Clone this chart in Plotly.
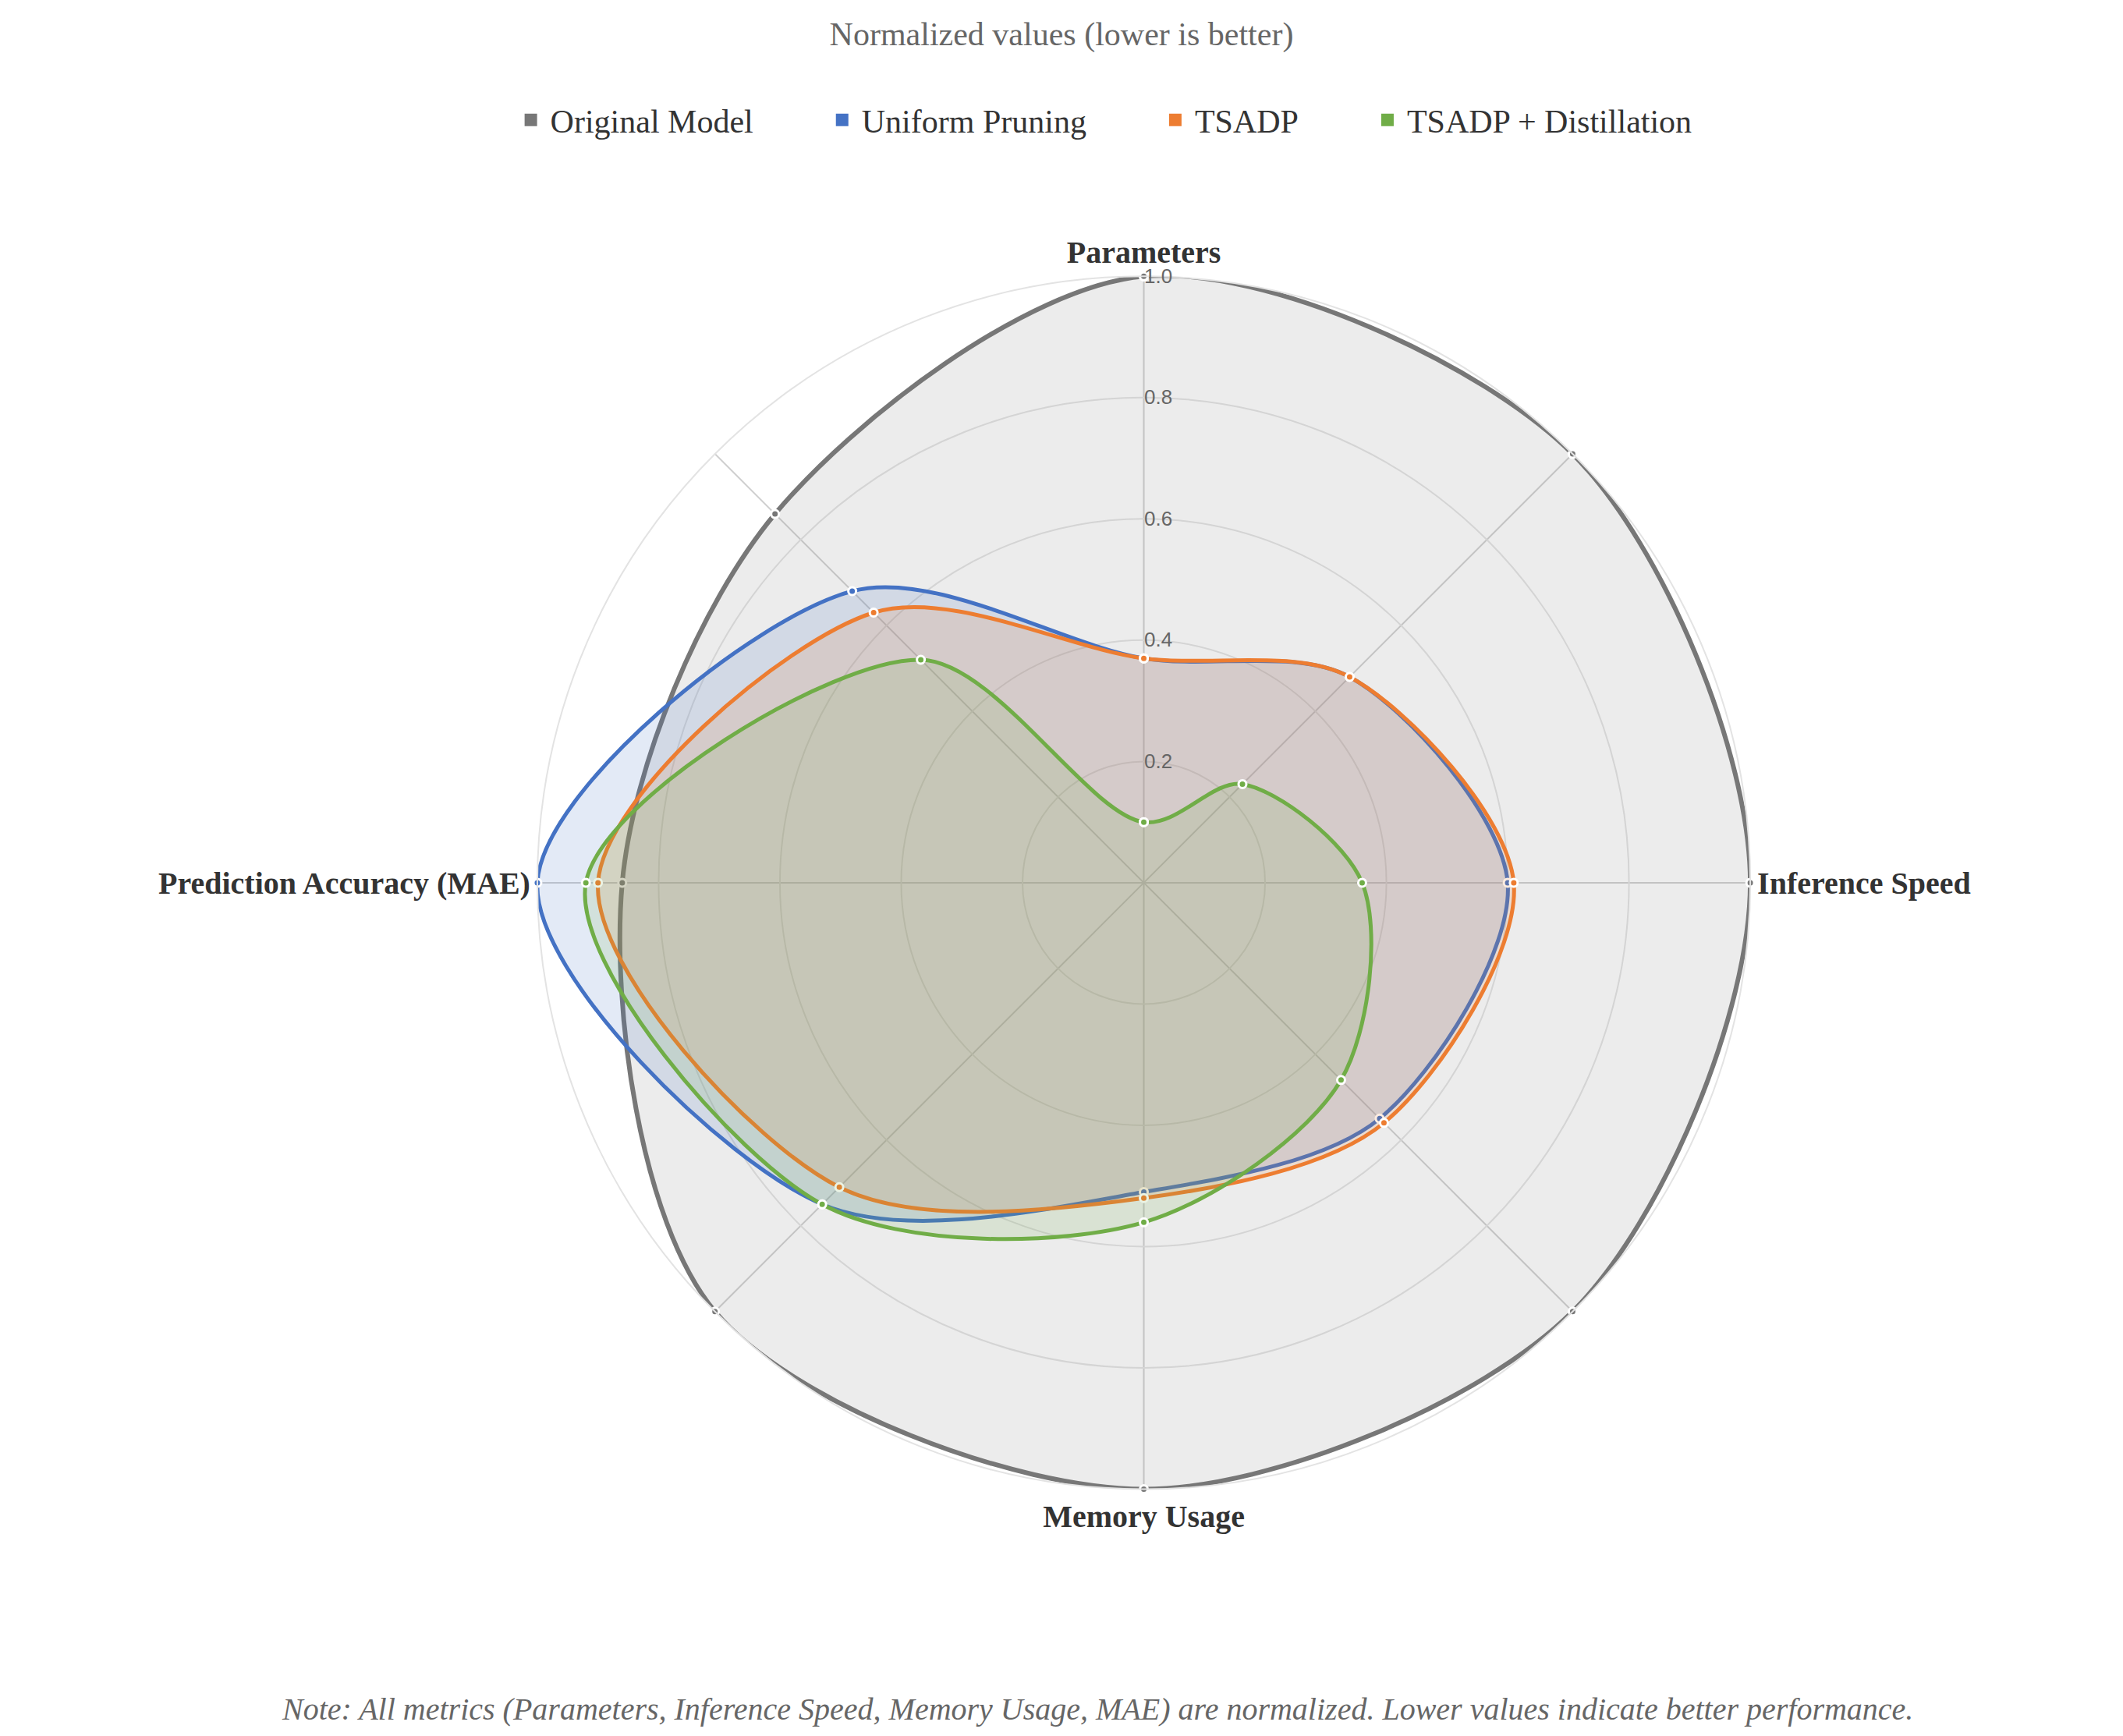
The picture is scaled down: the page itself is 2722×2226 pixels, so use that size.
import plotly.graph_objects as go

# axis names (diagonal spokes have no label in the source chart)
axes = ["Parameters", " ", "Inference Speed", "  ", "Memory Usage", "   ",
        "Prediction Accuracy (MAE)", "    "]

series_names = ["Original Model", "Uniform Pruning", "TSADP", "TSADP + Distillation"]
original = [1.00, 1.00, 1.00, 1.00, 1.00, 1.00, 0.86, 0.86]
uniform = [0.37, 0.48, 0.60, 0.55, 0.51, 0.75, 1.00, 0.68]
tsadp = [0.37, 0.48, 0.61, 0.56, 0.52, 0.71, 0.90, 0.63]
distill = [0.10, 0.23, 0.36, 0.46, 0.56, 0.75, 0.92, 0.52]

radial_ticks = [0.2, 0.4, 0.6, 0.8, 1.0]
radial_ticktext = ["0.2", "0.4", "0.6", "0.8", "1.0"]

line_colors = ["#777777", "#4472c4", "#ed7d31", "#70ad47"]
line_widths = [6, 5, 5, 5]
fill_colors = ["rgba(128,128,128,0.15)", "rgba(68,114,196,0.15)",
               "rgba(237,125,49,0.15)", "rgba(112,173,71,0.15)"]

serif = "Liberation Serif"
pad = "\u00a0" * 8  # extra room between legend entries

fig = go.Figure()

for name, vals, lc, lw, fc in zip(series_names, [original, uniform, tsadp, distill],
                                  line_colors, line_widths, fill_colors):
    fig.add_trace(go.Scatterpolar(
        r=vals + vals[:1],
        theta=axes + axes[:1],
        name=name,
        mode="lines+markers",
        fill="toself",
        fillcolor=fc,
        line=dict(color=lc, width=lw, shape="spline", smoothing=0.9),
        marker=dict(size=10, color=lc, line=dict(color="white", width=3)),
        cliponaxis=False,
        showlegend=False,
    ))

# legend swatches
for i, (name, lc) in enumerate(zip(series_names, line_colors)):
    fig.add_trace(go.Scatterpolar(
        r=[None], theta=[axes[0]],
        name=name + (pad if i < len(series_names) - 1 else ""),
        mode="markers",
        marker=dict(symbol="square", size=16, color=lc),
    ))

fig.update_layout(
    paper_bgcolor="white",
    margin=dict(l=0, r=0, t=0, b=0),
    font=dict(family=serif, color="#333333"),
    title=dict(text="Normalized values (lower is better)",
               x=0.5, xanchor="center", y=0.984, yanchor="middle",
               font=dict(family=serif, size=42, color="#666666")),
    legend=dict(orientation="h", x=0.52, xanchor="center", y=0.934, yanchor="middle",
                font=dict(family=serif, size=42, color="#333333"),
                itemsizing="trace", itemwidth=40, tracegroupgap=0),
    polar=dict(
        domain=dict(x=[0.249, 0.829], y=[0.1396, 0.8433]),
        bgcolor="white",
        angularaxis=dict(
            rotation=90, direction="clockwise",
            showline=True, linecolor="#e3e3e3", linewidth=2,
            gridcolor="#cfcfcf", gridwidth=2,
            ticks="",
            tickfont=dict(family=serif, size=40, color="#333333", weight="bold"),
        ),
        radialaxis=dict(
            range=[0, 1.0], angle=90, tickangle=90,
            tickvals=radial_ticks, ticktext=radial_ticktext,
            showline=False, ticks="",
            gridcolor="#e3e3e3", gridwidth=2,
            tickfont=dict(family="Liberation Sans", size=26, color="#666666"),
        ),
    ),
    annotations=[dict(
        text="<i>Note: All metrics (Parameters, Inference Speed, Memory Usage, MAE) are normalized. "
             "Lower values indicate better performance.</i>",
        x=0.517, y=0.012, xref="paper", yref="paper",
        xanchor="center", yanchor="middle", showarrow=False,
        font=dict(family=serif, size=40, color="#666666"),
    )],
)

fig.write_html("out.html")
